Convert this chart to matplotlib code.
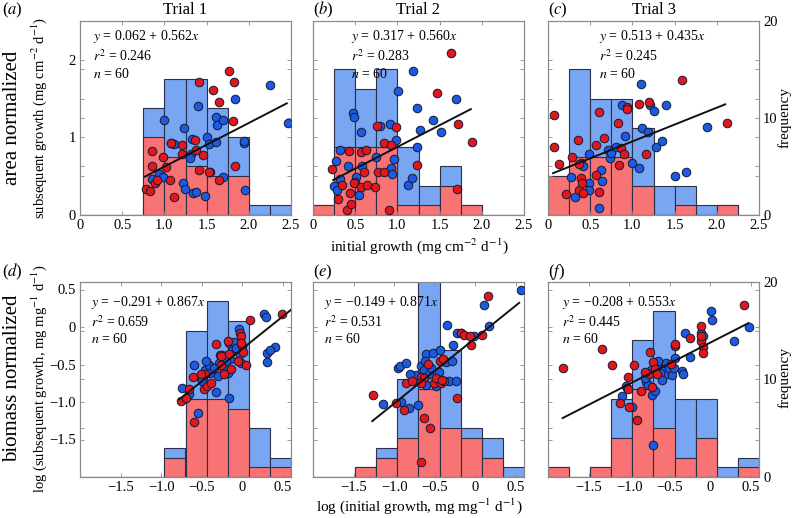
import numpy as np
import matplotlib.pyplot as plt
from matplotlib.ticker import FixedLocator, FixedFormatter

plt.rcParams['font.family'] = ['Liberation Serif', 'DejaVu Serif']
plt.rcParams['mathtext.fontset'] = 'stix'

# histogram bins
top_bins = [0, 0.25, 0.5, 0.75, 1.0, 1.25, 1.5, 1.75, 2.0, 2.25, 2.5]
bot_bins = [-2.0, -1.74, -1.48, -1.22, -0.96, -0.70, -0.44, -0.18, 0.08, 0.34, 0.60]

# histogram counts (frequency)
a_blue_hist = [0, 0, 0, 11, 14, 14, 11, 8, 1, 1]
a_red_hist = [0, 0, 0, 8, 6, 5, 4, 4, 0, 0]
b_blue_hist = [1, 15, 13, 15, 7, 3, 5, 1, 0, 0]
b_red_hist = [1, 7, 7, 7, 1, 1, 3, 1, 0, 0]
c_blue_hist = [4, 15, 12, 12, 9, 3, 3, 1, 1, 0]
c_red_hist = [4, 6, 6, 6, 3, 0, 1, 0, 1, 0]
d_blue_hist = [0, 0, 0, 0, 3, 15, 18, 16, 5, 2]
d_red_hist = [0, 0, 0, 0, 2, 8, 8, 7, 1, 1]
e_blue_hist = [0, 0, 1, 3, 10, 22, 13, 5, 4, 1]
e_red_hist = [0, 0, 1, 2, 4, 9, 5, 4, 2, 0]
f_blue_hist = [1, 0, 1, 8, 14, 17, 8, 8, 1, 2]
f_red_hist = [1, 0, 1, 4, 9, 5, 2, 4, 0, 1]

# scatter points
a_red_x = [0.78, 0.83, 0.85, 0.85, 0.89, 0.91, 0.98, 1.02, 1.07, 1.08, 1.11, 1.21, 1.21,
           1.36, 1.38, 1.41, 1.41, 1.46, 1.53, 1.58, 1.65, 1.65, 1.76, 1.83, 1.81, 1.84]
a_red_y = [0.34, 0.31, 0.83, 0.63, 0.41, 0.45, 0.75, 0.62, 0.45, 0.93, 0.23, 0.90, 0.78,
           0.97, 0.84, 1.71, 0.58, 0.77, 0.55, 1.61, 1.46, 0.45, 1.86, 1.71, 1.21, 0.63]
a_blue_x = [0.85, 0.94, 0.98, 1.00, 1.11, 1.22, 1.23, 1.24, 1.31, 1.30, 1.34, 1.37, 1.40, 1.48,
            1.51, 1.53, 1.54, 1.61, 1.61, 1.62, 1.69, 1.70, 1.84, 1.94, 1.96, 1.94, 2.25, 2.46,
            1.08, 1.33]
a_blue_y = [0.47, 0.53, 0.49, 1.22, 0.92, 0.41, 1.12, 0.33, 0.79, 0.73, 0.28, 0.29, 1.41, 0.25,
            1.00, 0.91, 0.55, 0.94, 1.26, 1.16, 0.49, 1.22, 1.49, 0.93, 0.32, 0.96, 1.68, 1.18,
            0.93, 0.98]

b_red_x = [0.23, 0.30, 0.34, 0.40, 0.43, 0.44, 0.45, 0.48, 0.57, 0.57, 0.60, 0.63, 0.64, 0.74,
           0.76, 0.77, 0.84, 0.84, 0.90, 0.93, 0.98, 1.23, 1.47, 1.63, 1.71, 1.72, 1.88]
b_red_y = [0.59, 0.20, 0.39, 0.07, 0.82, 0.28, 0.14, 0.41, 0.81, 0.36, 0.56, 0.84, 0.39, 0.36,
           1.15, 0.56, 0.93, 0.55, 0.06, 0.90, 1.14, 0.65, 1.57, 2.09, 0.34, 1.17, 0.94]
b_blue_x = [0.25, 0.27, 0.29, 0.32, 0.32, 0.41, 0.47, 0.49, 0.51, 0.50, 0.54, 0.57, 0.58, 0.75,
            0.79, 0.91, 0.93, 0.94, 0.96, 0.98, 1.01, 1.13, 1.17, 1.19, 1.23, 1.23, 1.27, 1.42,
            1.52, 1.70]
b_blue_y = [0.38, 0.70, 0.32, 0.46, 0.84, 0.63, 1.32, 1.26, 0.49, 0.43, 0.26, 1.07, 0.63, 0.75,
            1.15, 1.17, 0.60, 0.53, 0.72, 0.97, 1.60, 0.39, 0.48, 1.86, 1.38, 0.87, 1.09, 1.22,
            1.07, 1.50]

c_red_x = [0.07, 0.07, 0.13, 0.21, 0.29, 0.36, 0.37, 0.37, 0.39, 0.40, 0.41, 0.57, 0.57, 0.60,
           0.60, 0.66, 0.83, 0.84, 0.86, 0.90, 0.94, 0.94, 1.08, 1.20, 1.16, 1.59, 2.12]
c_red_y = [1.29, 0.87, 0.66, 0.27, 0.75, 0.97, 0.66, 0.32, 0.48, 0.41, 0.28, 0.90, 0.51, 0.29,
           1.33, 0.99, 1.19, 0.64, 0.86, 0.79, 1.39, 1.36, 1.43, 1.45, 0.79, 1.74, 1.19]
c_blue_x = [0.27, 0.32, 0.39, 0.41, 0.48, 0.49, 0.49, 0.61, 0.63, 0.64, 0.71, 0.73, 0.75, 0.80,
            0.88, 0.91, 0.99, 1.08, 1.10, 1.11, 1.18, 1.21, 1.25, 1.28, 1.35, 1.40, 1.51, 1.63,
            1.88]
c_blue_y = [0.49, 0.23, 0.67, 0.63, 0.78, 0.41, 0.32, 0.09, 0.58, 0.44, 0.84, 0.74, 0.80, 0.88,
            1.42, 1.02, 0.67, 0.61, 1.69, 1.12, 1.07, 1.42, 1.34, 0.88, 0.95, 1.42, 0.50, 0.55,
            1.13]

d_red_x = [-0.76, -0.66, -0.60, -0.61, -0.47, -0.46, -0.43, -0.38, -0.32, -0.27, -0.26, -0.23,
           -0.18, -0.16, -0.14, -0.05, -0.03, -0.01, 0.00, 0.01, 0.05, 0.09, 0.49, -0.26, -0.51,
           -0.70, -0.02]
d_red_y = [-0.98, -0.83, -1.27, -0.66, -0.83, -0.63, -0.79, -0.75, -0.22, -0.37, -0.50, -0.63,
           -0.18, -0.36, -0.56, -0.45, -0.08, -0.12, -0.25, -0.33, -0.50, 0.10, 0.17, -0.39, -0.63,
           -0.95, -0.21]
d_blue_x = [-0.74, -0.66, -0.60, -0.55, -0.52, -0.46, -0.41, -0.40, -0.33, -0.29, -0.25, -0.23,
            -0.18, -0.17, -0.16, -0.15, -0.13, -0.04, -0.03, -0.01, 0.27, 0.29, 0.31, 0.31, 0.40,
            0.34, -0.35, -0.20, -0.10, -0.50, -0.30, -0.45, -0.08]
d_blue_y = [-0.81, -0.89, -0.50, -1.15, -0.67, -0.57, -0.50, -0.61, -0.86, -0.48, -0.37, -0.57,
            -0.61, -0.95, -0.21, -0.42, -0.31, -0.03, -0.36, -0.48, 0.18, 0.13, -0.34, -0.46, -0.26,
            -0.30, -0.55, -0.45, -0.20, -0.72, -0.65, -0.45, -0.28]

e_red_x = [-1.26, -0.98, -0.88, -0.85, -0.78, -0.67, -0.67, -0.63, -0.58, -0.56, -0.51, -0.44,
           -0.44, -0.42, -0.39, -0.23, -0.18, -0.14, -0.07, -0.05, 0.08, 0.16, -0.63, -0.48,
           -0.41, -0.40, -0.67]
e_red_y = [-0.90, -1.01, -1.10, -0.74, -0.72, -0.67, -1.80, -1.21, -0.49, -1.34, -0.74, -0.70,
           -0.45, -0.75, -0.72, -0.95, -0.08, -0.10, -0.12, -0.24, -0.11, 0.42, -0.68, -0.68,
           -0.71, -0.43, -0.75]
e_blue_x = [-1.14, -0.95, -0.93, -0.91, -0.86, -0.82, -0.73, -0.70, -0.67, -0.63, -0.61, -0.61,
            -0.57, -0.52, -0.49, -0.44, -0.41, -0.36, -0.35, -0.32, -0.29, -0.27, -0.24, -0.23,
            -0.18, -0.02, 0.11, 0.17, 0.56, -0.55, -0.80, -0.45, -0.62]
e_blue_y = [-1.02, -0.54, -0.52, -1.00, -0.48, -1.08, -0.64, -1.04, -0.52, -0.57, -0.36, -0.77,
            -0.63, -0.34, -0.79, -0.31, -0.45, -0.46, 0.03, -0.72, -0.45, -0.24, -0.72, -0.08,
            -0.08, -0.12, 0.29, 0.02, 0.50, -0.55, -0.62, -0.60, -0.45]

f_red_x = [-1.81, -1.34, -1.21, -1.11, -1.01, -1.01, -1.00, -0.94, -0.90, -0.85, -0.76, -0.74,
           -0.72, -0.70, -0.68, -0.66, -0.49, -0.44, -0.44, -0.25, -0.12, -0.11, -0.09, -0.09,
           0.42, -0.12, -0.80]
f_red_y = [-0.54, -0.29, -0.50, -1.01, -0.83, -0.67, -1.07, -0.50, -1.24, -0.85, -0.62, -0.33,
           -0.80, -0.46, -0.56, -0.62, -0.49, -0.25, -0.23, -0.15, -0.19, 0.02, -0.27, -0.34,
           0.29, -0.12, -0.60]
f_blue_x = [-1.09, -1.04, -1.03, -0.97, -0.79, -0.77, -0.72, -0.71, -0.68, -0.73, -0.59, -0.57,
            -0.54, -0.53, -0.51, -0.47, -0.43, -0.35, -0.34, -0.31, -0.25, -0.12, -0.09, 0.01,
            0.02, 0.29, 0.48, -0.66, -0.62, -0.80, -0.60, -0.45, -0.65]
f_blue_y = [-0.92, -0.78, -0.81, -1.07, -0.73, -0.77, -0.90, -1.57, -0.85, -0.57, -0.57, -0.54,
            -0.48, -0.63, -0.54, -0.64, -0.41, -0.58, -0.62, -0.08, -0.40, -0.08, -0.12, 0.21,
            0.09, -0.19, 0.00, -0.52, -0.61, -0.68, -0.70, -0.55, -0.45]

# regression fits: intercept, slope, x-range
fit_intercept = [0.062, 0.317, 0.513, -0.291, -0.149, -0.208]
fit_slope = [0.562, 0.560, 0.435, 0.867, 0.871, 0.553]
fit_xmin = [0.77, 0.24, 0.06, -0.78, -1.27, -1.82]
fit_xmax = [2.45, 1.87, 2.10, 0.60, 0.54, 0.47]
fit_r2 = ['0.246', '0.283', '0.245', '0.659', '0.531', '0.445']
fit_eq = ['0.062 + 0.562', '0.317 + 0.560', '0.513 + 0.435',
          '\u22120.291 + 0.867', '\u22120.149 + 0.871', '\u22120.208 + 0.553']

panel_letters = ['a', 'b', 'c', 'd', 'e', 'f']
trials = ['Trial 1', 'Trial 2', 'Trial 3']

hist_blue = '#78a6f2'
hist_red = '#f77374'
hist_edge = '#2c3048'
pt_blue = '#1c5ae2'
pt_red = '#e2161b'
pt_edge = '#141a33'
spine_col = '#8a8a8a'

W, H = 793, 518
fig = plt.figure(figsize=(W / 100, H / 100), dpi=100)

col_left = [80, 313, 548]
col_w = 211
row_top = [21, 282]
row_h = [194, 195]

red_hists = [a_red_hist, b_red_hist, c_red_hist, d_red_hist, e_red_hist, f_red_hist]
blue_hists = [a_blue_hist, b_blue_hist, c_blue_hist, d_blue_hist, e_blue_hist, f_blue_hist]
reds = [(a_red_x, a_red_y), (b_red_x, b_red_y), (c_red_x, c_red_y),
        (d_red_x, d_red_y), (e_red_x, e_red_y), (f_red_x, f_red_y)]
blues = [(a_blue_x, a_blue_y), (b_blue_x, b_blue_y), (c_blue_x, c_blue_y),
         (d_blue_x, d_blue_y), (e_blue_x, e_blue_y), (f_blue_x, f_blue_y)]

eq_pos = [(0.06, 0.965), (0.18, 0.965), (0.24, 0.965),
          (0.05, 0.94), (0.05, 0.94), (0.066, 0.94)]

for i in range(6):
    r, c = divmod(i, 3)
    rect = [col_left[c] / W, 1 - (row_top[r] + row_h[r]) / H, col_w / W, row_h[r] / H]
    ax = fig.add_axes(rect)
    ax2 = ax.twinx()
    ax.set_zorder(ax2.get_zorder() + 1)
    ax.patch.set_visible(False)

    bins = np.array(top_bins if r == 0 else bot_bins)
    widths = np.diff(bins)
    ax2.bar(bins[:-1], blue_hists[i], width=widths, align='edge', color=hist_blue,
            edgecolor=hist_edge, linewidth=0.8)
    ax2.bar(bins[:-1], red_hists[i], width=widths, align='edge', color=hist_red,
            edgecolor=hist_edge, linewidth=0.8)
    ax2.set_ylim(0, 20)

    ax.scatter(*blues[i], s=38, color=pt_blue, edgecolor=pt_edge, linewidth=0.7, zorder=3)
    ax.scatter(*reds[i], s=38, color=pt_red, edgecolor=pt_edge, linewidth=0.7, zorder=3)
    xs = np.array([fit_xmin[i], fit_xmax[i]])
    ax.plot(xs, fit_intercept[i] + fit_slope[i] * xs, color='#111111', lw=1.4, zorder=4)

    ax.text(eq_pos[i][0], eq_pos[i][1],
            '$y$ = ' + fit_eq[i] + '$x$\n$r^2$ = ' + fit_r2[i] + '\n$n$ = 60',
            transform=ax.transAxes, va='top', ha='left', fontsize=10, linespacing=1.25,
            zorder=5)

    if r == 0:
        ax.set_xlim(0, 2.5)
        ax.set_ylim(0, 2.5)
        ax.xaxis.set_major_locator(FixedLocator([0, 0.5, 1.0, 1.5, 2.0, 2.5]))
        ax.xaxis.set_major_formatter(FixedFormatter(['0', '0.5', '1.0', '1.5', '2.0', '2.5']))
        ax.yaxis.set_major_locator(FixedLocator([0, 0.5, 1, 1.5, 2]))
        ax.yaxis.set_major_formatter(FixedFormatter(['0', '', '1', '', '2']))
    else:
        ax.set_xlim(-2.0, 0.6)
        ax.set_ylim(-2.0, 0.6)
        ax.xaxis.set_major_locator(FixedLocator([-1.5, -1.0, -0.5, 0, 0.5]))
        ax.xaxis.set_major_formatter(FixedFormatter(['\u22121.5', '\u22121.0', '\u22120.5', '0', '0.5']))
        ax.yaxis.set_major_locator(FixedLocator([-1.5, -1.0, -0.5, 0, 0.5]))
        ax.yaxis.set_major_formatter(FixedFormatter(['\u22121.5', '\u22121.0', '\u22120.5', '0', '0.5']))

    ax2.yaxis.set_major_locator(FixedLocator([0, 5, 10, 15, 20]))
    ax2.yaxis.set_major_formatter(FixedFormatter(['0', '', '10', '', '20']))

    ax.tick_params(direction='in', length=3, width=0.6, color=spine_col, labelsize=10.5,
                   top=True, right=True, labelleft=(c == 0), pad=3)
    ax2.tick_params(direction='in', length=3, width=0.6, color=spine_col, labelsize=10.5,
                    left=True, labelright=(c == 2), pad=3)
    for ax_ in (ax, ax2):
        for sp in ax_.spines.values():
            sp.set_color(spine_col)
            sp.set_linewidth(0.8)

    # panel letter
    lx = [2, 313, 548][c]
    ly = [10, 272][r]
    fig.text(lx / W, 1 - ly / H, '(' + '$' + panel_letters[i] + '$' + ')', fontsize=12,
             ha='left', va='center')
    if r == 0:
        fig.text((col_left[c] + col_w / 2) / W, 1 - 10 / H, trials[c], fontsize=12,
                 ha='center', va='center')


def fx(x):
    return x / W


def fy(y):
    return 1 - y / H


fig.text(fx(13), fy(118), 'area normalized', rotation=90, fontsize=15, ha='center', va='center')
fig.text(fx(39), fy(118), 'subsequent growth (mg cm$^{-2}$ d$^{-1}$)', rotation=90,
         fontsize=10.5, ha='center', va='center')
fig.text(fx(13), fy(378), 'biomass normalized', rotation=90, fontsize=15, ha='center', va='center')
fig.text(fx(39), fy(378), 'log (subsequent growth, mg mg$^{-1}$ d$^{-1}$)', rotation=90,
         fontsize=10.5, ha='center', va='center')
fig.text(fx(419), fy(246), 'initial growth (mg cm$^{-2}$ d$^{-1}$)', fontsize=11,
         ha='center', va='center')
fig.text(fx(419), fy(506), 'log (initial growth, mg mg$^{-1}$ d$^{-1}$)', fontsize=11,
         ha='center', va='center')
fig.text(fx(785), fy(118), 'frequency', rotation=90, fontsize=11, ha='center', va='center')
fig.text(fx(785), fy(378), 'frequency', rotation=90, fontsize=11, ha='center', va='center')

fig.savefig('out.png', dpi=100)
